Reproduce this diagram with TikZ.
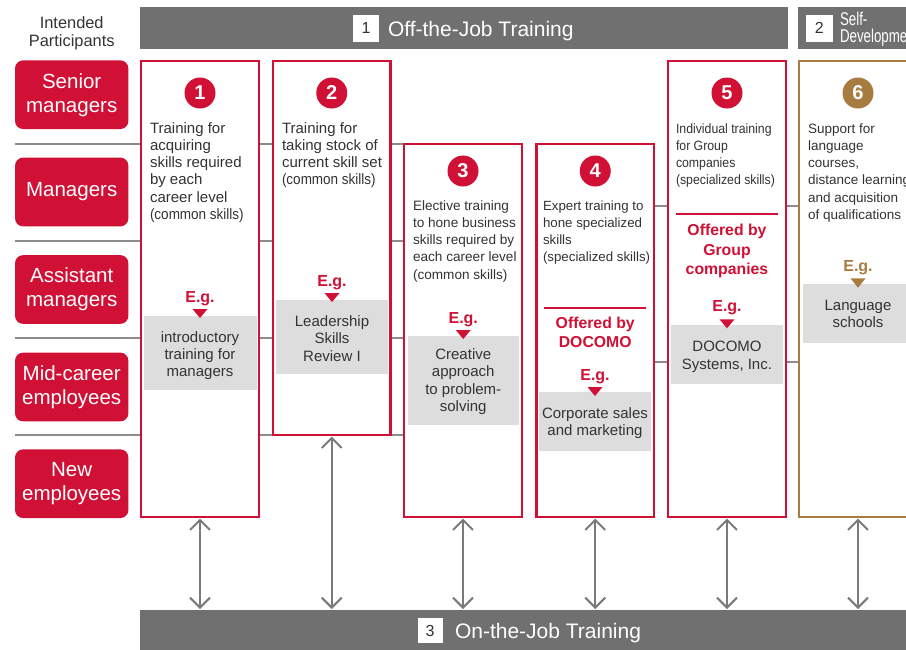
\documentclass[tikz,border=0pt]{standalone}
\usepackage{fontspec}
\setmainfont{Liberation Sans}
\newfontfamily\condA[FakeStretch=0.91]{Liberation Sans}
\newfontfamily\condB[FakeStretch=0.72]{Liberation Sans}
\newfontfamily\condC[FakeStretch=0.9]{Liberation Sans}
\usetikzlibrary{arrows.meta}
\definecolor{cred}{RGB}{208,16,52}
\definecolor{cbrown}{RGB}{166,124,64}
\definecolor{cbar}{RGB}{112,112,112}
\definecolor{cgbox}{RGB}{220,221,220}
\definecolor{ctext}{RGB}{51,51,51}
\definecolor{cgrid}{RGB}{140,140,140}
\definecolor{carrow}{RGB}{122,122,122}
\newcommand\fs[2]{\fontsize{#1pt}{#2pt}\selectfont}
\newcommand\colL[2]{\parbox[t]{#1pt}{\raggedright #2}}
\newcommand\colC[2]{\parbox[t]{#1pt}{\centering #2}}
\begin{document}
\begin{tikzpicture}[x=1pt,y=-1pt,
  every node/.style={inner sep=0pt, outer sep=0pt},
  gridline/.style={draw=cgrid, line width=1.8pt},
  barbox/.style={fill=cbar, minimum height=42pt},
  sqbox/.style={fill=white, minimum size=26.7pt, text=ctext, font=\fs{16}{18}},
  bartext/.style={text=white, font=\fs{21}{24}},
  rolebox/.style={fill=cred, rounded corners=8pt, minimum width=113.3pt, minimum height=68.7pt, text=white, align=center, font=\fs{20.5}{24}},
  redbox/.style={draw=cred, line width=2.4pt, fill=white},
  brownbox/.style={draw=cbrown, line width=2.4pt, fill=white},
  numdot/.style={circle, fill=cred, minimum size=31pt, text=white, font=\bfseries\fs{20}{22}},
  coltext/.style={anchor=base west, text=ctext},
  gbox/.style={fill=cgbox},
  gtext/.style={anchor=base, text=ctext},
  eg/.style={anchor=base, text=cred, font=\bfseries\fs{16}{18}},
  offer/.style={anchor=base, text=cred, font=\bfseries\fs{15.8}{19.5}},
  sepline/.style={draw=cred, line width=1.8pt},
  arr/.style={draw=carrow, line width=2pt, {Straight Barb[length=10pt,width=20pt]}-{Straight Barb[length=10pt,width=20pt]}, shorten <=1.5pt, shorten >=1pt}
]
\useasboundingbox (0,0) rectangle (906,649);
\clip (0,0) rectangle (906,649);

% grid lines
\foreach \yy in {144,241,338,435} \draw[gridline] (15,\yy) -- (404,\yy);
\foreach \yy in {206,362} \draw[gridline] (654,\yy) -- (799,\yy);

% header
\node[anchor=base, text=ctext] (hdr) at (71.7,28.3) {\colC{110}{\fs{16.4}{18.4}Intended\\Participants}};

% top bars
\node[barbox, minimum width=648pt] (bar1) at (464,28) {};
\node[sqbox] (sq1) at (366,28.3) {1};
\node[bartext, anchor=base west] (bt1) at (388,36.3) {Off-the-Job Training};
\node[barbox, minimum width=140pt] (bar2) at (868,28) {};
\node[sqbox, minimum size=27pt] (sq2) at (819.2,28.3) {2};
\node[anchor=base west, text=white] (bt2) at (840,25.7) {\colL{90}{\condB\fs{18.5}{16.6}Self-\\Development}};

% bottom bar
\node[barbox, minimum width=800pt] (bar3) at (540,631) {};
\node[sqbox, minimum size=25pt] (sq3) at (430,630.5) {3};
\node[bartext, anchor=base west] (bt3) at (455,638) {On-the-Job Training};

% role boxes
\node[rolebox] (r1) at (71.7,94.7) {Senior\\managers};
\node[rolebox] (r2) at (71.7,192) {Managers};
\node[rolebox] (r3) at (71.7,289.5) {Assistant\\managers};
\node[rolebox] (r4) at (71.7,387) {Mid-career\\employees};
\node[rolebox] (r5) at (71.7,483.7) {New\\employees};

% column boxes
\node[redbox, minimum width=118pt, minimum height=456pt] (b1) at (200,289) {};
\node[redbox, minimum width=117.5pt, minimum height=374pt] (b2) at (331.75,248) {};
\node[redbox, minimum width=118pt, minimum height=373pt] (b3) at (463,330.5) {};
\node[redbox, minimum width=117.5pt, minimum height=373pt] (b4) at (595.25,330.5) {};
\node[redbox, minimum width=118pt, minimum height=456pt] (b5) at (727,289) {};
\node[brownbox, minimum width=118pt, minimum height=456pt] (b6) at (858,289) {};

% numbers
\node[numdot] (n1) at (200,93) {1};
\node[numdot] (n2) at (331.75,93) {2};
\node[numdot] (n3) at (463,171) {3};
\node[numdot] (n4) at (595.25,171) {4};
\node[numdot] (n5) at (727,93) {5};
\node[numdot, fill=cbrown] (n6) at (858,93) {6};

% descriptions
\node[coltext] (t1) at (150,133) {\colL{110}{\fs{15}{17.3}Training for\\acquiring\\skills required\\by each\\career level\\{\condC (common skills)}}};
\node[coltext] (t2) at (282,133) {\colL{110}{\fs{15}{17.3}Training for\\taking stock of\\current skill set\\{\condC (common skills)}}};
\node[coltext] (t3) at (413,210) {\colL{110}{\fs{13.6}{17.3}Elective training\\to hone business\\skills required by\\each career level\\(common skills)}};
\node[coltext] (t4) at (543,210) {\colL{110}{\fs{13.3}{17.3}Expert training to\\hone specialized\\skills\\(specialized skills)}};
\node[coltext] (t5) at (676,133) {\colL{110}{\condA\fs{13.5}{17.3}Individual training\\for Group\\companies\\(specialized skills)}};
\node[coltext] (t6) at (808,133) {\colL{110}{\fs{13.5}{17.3}Support for\\language\\courses,\\distance learning\\and acquisition\\of qualifications}};

% offered by
\draw[sepline] (544,307.7) -- (646,307.7);
\node[offer] (o4) at (595.25,328.3) {\colC{110}{Offered by\\DOCOMO}};
\draw[sepline] (676,214.3) -- (777.7,214.3);
\node[offer] (o5) at (727,235.7) {\colC{110}{Offered by\\Group\\companies}};

% example boxes
\node[gbox, minimum width=113pt, minimum height=74pt] (g1) at (200,353) {};
\node[gbox, minimum width=112pt, minimum height=74pt] (g2) at (332,337) {};
\node[gbox, minimum width=111.5pt, minimum height=89pt] (g3) at (463.25,380.5) {};
\node[gbox, minimum width=111.4pt, minimum height=58.4pt] (g4) at (595,421.5) {};
\node[gbox, minimum width=111.7pt, minimum height=58.7pt] (g5) at (727.15,354.35) {};
\node[gbox, minimum width=109.4pt, minimum height=58.7pt] (g6) at (858,313.35) {};

\node[gtext] (gt1) at (200,342.7) {\colC{110}{\fs{15}{16.7}introductory\\training for\\managers}};
\node[gtext] (gt2) at (332,326) {\colC{110}{\fs{15}{17.5}Leadership\\Skills\\Review I}};
\node[gtext] (gt3) at (463.25,359) {\colC{110}{\fs{15}{17.5}Creative\\approach\\to problem-\\solving}};
\node[gtext] (gt4) at (595,418) {\colC{112}{\fs{15}{17}Corporate sales\\and marketing}};
\node[gtext] (gt5) at (727,351) {\colC{112}{\fs{15}{18}DOCOMO\\Systems, Inc.}};
\node[gtext] (gt6) at (858,310) {\colC{110}{\fs{15}{17.7}Language\\schools}};

% E.g. labels and markers
\node[eg] (e1) at (200,302.7) {E.g.};
\fill[cred] (192.5,309) -- (207.5,309) -- (200,318) -- cycle;
\node[eg] (e2) at (332,286.7) {E.g.};
\fill[cred] (324.5,293) -- (339.5,293) -- (332,302) -- cycle;
\node[eg] (e3) at (463.25,323.3) {E.g.};
\fill[cred] (455.75,330) -- (470.75,330) -- (463.25,339) -- cycle;
\node[eg] (e4) at (595,380) {E.g.};
\fill[cred] (587.5,387) -- (602.5,387) -- (595,396) -- cycle;
\node[eg] (e5) at (727,311.7) {E.g.};
\fill[cred] (719.5,319.3) -- (734.5,319.3) -- (727,328.3) -- cycle;
\node[eg, text=cbrown] (e6) at (858,271.7) {E.g.};
\fill[cbrown] (850.5,278.3) -- (865.5,278.3) -- (858,287.7) -- cycle;

% arrows to on-the-job training
\foreach \b in {b1,b2,b3,b4,b5,b6}
  \draw[arr] (\b.south) -- (\b.south |- bar3.north);
\end{tikzpicture}
\end{document}
